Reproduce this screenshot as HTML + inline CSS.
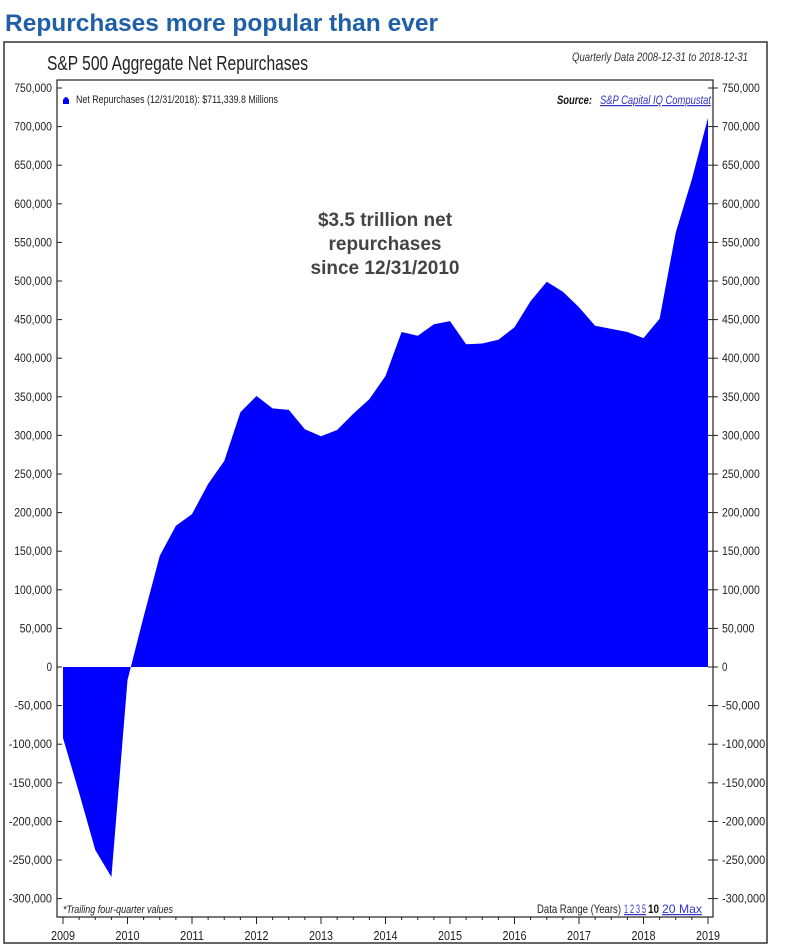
<!DOCTYPE html>
<html><head><meta charset="utf-8"><style>
body{margin:0;background:#fff;width:791px;height:946px;overflow:hidden}
svg{display:block}
.n{font-family:"Liberation Sans",sans-serif}
</style></head><body>
<svg id="chart" width="791" height="946">
<text x="5" y="31" font-family="Liberation Sans,sans-serif" font-weight="bold" font-size="24" fill="#1f5fa8" textLength="433" lengthAdjust="spacingAndGlyphs">Repurchases more popular than ever</text>
<rect x="4" y="42" width="763" height="901" fill="none" stroke="#333" stroke-width="1.5"/>
<text class="n" x="47" y="70" font-size="20" fill="#222" textLength="261" lengthAdjust="spacingAndGlyphs">S&amp;P 500 Aggregate Net Repurchases</text>
<text class="n" x="572" y="61" font-size="12" font-style="italic" fill="#333" textLength="176" lengthAdjust="spacingAndGlyphs">Quarterly Data 2008-12-31 to 2018-12-31</text>
<g id="plot"></g>
<rect x="57" y="80" width="656" height="837" fill="none" stroke="#222" stroke-width="1.2"/>
<path d="M63 104 l0 -4 q3 -6 6 0 l0 4 z" fill="#00f"/>
<text class="n" x="76" y="103" font-size="11" fill="#222" textLength="202" lengthAdjust="spacingAndGlyphs">Net Repurchases (12/31/2018): $711,339.8 Millions</text>
<text class="n" x="557" y="104" font-size="12" font-weight="bold" font-style="italic" fill="#111" textLength="35" lengthAdjust="spacingAndGlyphs">Source:</text>
<text class="n" x="600" y="104" font-size="12" font-style="italic" fill="#33c" text-decoration="underline" textLength="111" lengthAdjust="spacingAndGlyphs">S&amp;P Capital IQ Compustat</text>
<g font-family="Liberation Sans,sans-serif" font-weight="bold" font-size="19" fill="#444" text-anchor="middle">
<text x="385" y="226">$3.5 trillion net</text><text x="385" y="250">repurchases</text><text x="385" y="274">since 12/31/2010</text></g>
<text class="n" x="63" y="913" font-size="11" font-style="italic" fill="#222" textLength="110" lengthAdjust="spacingAndGlyphs">*Trailing four-quarter values</text>
<text class="n" x="537" y="913" font-size="12" fill="#222" textLength="84" lengthAdjust="spacingAndGlyphs">Data Range (Years)</text>
<text class="n" x="624" y="913" font-size="12" fill="#33c" text-decoration="underline" textLength="22" lengthAdjust="spacingAndGlyphs">1 2 3 5</text>
<text class="n" x="648" y="913" font-size="12" font-weight="bold" fill="#111" textLength="11" lengthAdjust="spacingAndGlyphs">10</text>
<text class="n" x="662" y="913" font-size="12" fill="#33c" text-decoration="underline" textLength="40" lengthAdjust="spacingAndGlyphs">20 Max</text>
</svg>
<script>
const years=[2009,2010,2011,2012,2013,2014,2015,2016,2017,2018,2019];
const yTicks=[750000,700000,650000,600000,550000,500000,450000,400000,350000,300000,250000,200000,150000,100000,50000,0,-50000,-100000,-150000,-200000,-250000,-300000];
const startYear=2009;
const netRepurchases=[-92,-163,-237,-272,-17,65,144,183,198,237,267,330,351,335,333,308,299,307,328,347,377,434,429,444,448,418,419,424,440,474,499,486,466,442,438,434,426,451,563,632,711.3];
const NS='http://www.w3.org/2000/svg';
const X=y=>63+(y-2009)*64.5;
const Y=v=>667-v/50000*38.6;
const g=document.getElementById('plot');
function mk(t,a){const e=document.createElementNS(NS,t);for(const k in a)e.setAttribute(k,a[k]);g.appendChild(e);return e;}
let d='M'+X(startYear)+' '+Y(0);
netRepurchases.forEach((v,i)=>{d+=' L'+X(startYear+i/4).toFixed(1)+' '+Y(v*1000).toFixed(1);});
d+=' L'+X(startYear+(netRepurchases.length-1)/4)+' '+Y(0)+' Z';
const area=mk('path',{d:d,fill:'#0000ff'});


yTicks.forEach(v=>{
 const y=Y(v);const lab=v.toLocaleString('en-US');const w=lab.length*5.4;
 mk('line',{x1:57,x2:62,y1:y,y2:y,stroke:'#222'});
 mk('line',{x1:708,x2:718,y1:y,y2:y,stroke:'#222'});
 const t=mk('text',{x:52-w,y:y+4,'font-size':12,fill:'#222',class:'n',textLength:w,lengthAdjust:'spacingAndGlyphs'});t.textContent=lab;
 
 
 const t2=mk('text',{x:722,y:y+4,'font-size':12,fill:'#222',class:'n',textLength:w,lengthAdjust:'spacingAndGlyphs'});t2.textContent=lab;
 
 
});
for(let q=0;q<=40;q++){const x=X(2009+q/4);mk('line',{x1:x,x2:x,y1:917,y2:q%4==0?924:920,stroke:'#222'});}
years.forEach(yr=>{
 const t=mk('text',{x:X(yr)-12,y:940,'font-size':13,fill:'#222',class:'n',textLength:24,lengthAdjust:'spacingAndGlyphs'});t.textContent=yr;
 
 
});
</script>
</body></html>
